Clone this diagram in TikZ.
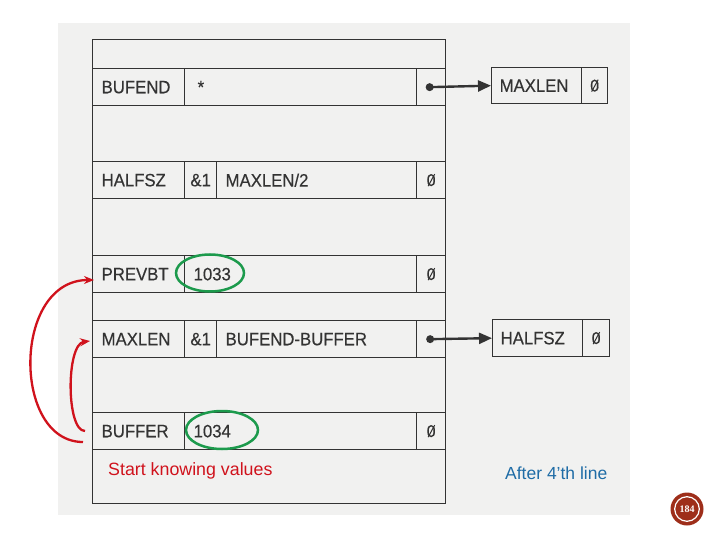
\documentclass[tikz,border=0pt]{standalone}
\usepackage{fontspec}
\setmainfont{Liberation Sans}
\newfontfamily\tablefont{Liberation Sans}[FakeBold=0.35, FakeStretch=0.93]
\newfontfamily\badgefont{Liberation Serif}
\usetikzlibrary{arrows.meta,shapes.geometric}
\definecolor{scan}{HTML}{F1F1F0}
\definecolor{ink}{HTML}{333333}
\definecolor{redmark}{HTML}{D0121C}
\definecolor{greenmark}{HTML}{1C9A4C}
\definecolor{bluetext}{HTML}{1F6CA6}
\definecolor{badgered}{HTML}{9E2E1A}
\tikzset{
  cell/.style={draw=ink, line width=1.3pt, minimum height=37pt, inner ysep=0pt,
    anchor=north west, font=\fontsize{18}{20}\tablefont, text=ink},
  lcell/.style={cell, inner xsep=9pt, align=left, text width=#1},
  ccell/.style={cell, inner xsep=0pt, align=center, text width=#1},
  zero/.style={font=\fontsize{17}{20}\tablefont,
    append after command={\pgfextra{\draw[ink, line width=1pt]
      ([xshift=-3pt,yshift=-6pt]\tikzlastnode.center) -- ([xshift=3.5pt,yshift=6pt]\tikzlastnode.center);}}},
  ptr/.style={draw=ink, line width=2.4pt, -{Triangle[length=13pt,width=11pt]}},
  dot/.style={fill=ink},
  redarc/.style={draw=redmark, line width=2.3pt, -{Stealth[length=10pt,width=8pt]}},
  greenring/.style={draw=greenmark, line width=2.5pt, ellipse, inner sep=0pt},
}
\begin{document}
\begin{tikzpicture}[x=1pt,y=-1pt]
\useasboundingbox (0,0) rectangle (720,540);
\fill[scan] (58,23) rectangle (630,515);

% outer table
\node[draw=ink, line width=1.4pt, minimum width=353pt, minimum height=464pt, anchor=north west, inner sep=0pt] (table) at (92,39) {};

% BUFEND row
\node[lcell=74pt] (bufendL) at (92,68) {BUFEND};
\node[lcell=214pt] (bufendV) at (184,68) {\hspace*{4pt}*};
\node[ccell=29pt] (bufendP) at (416,68) {};

% HALFSZ row
\node[lcell=74pt] (halfszL) at (92,161) {HALFSZ};
\node[ccell=32pt] (halfszR) at (184,161) {\&1};
\node[lcell=182pt] (halfszV) at (216,161) {MAXLEN/2};
\node[ccell=29pt, zero] (halfszP) at (416,161) {0};

% PREVBT row
\node[lcell=74pt] (prevbtL) at (92,255) {PREVBT};
\node[lcell=214pt] (prevbtV) at (184,255) {1033};
\node[ccell=29pt, zero] (prevbtP) at (416,255) {0};

% MAXLEN row
\node[lcell=74pt] (maxlenL) at (92,320) {MAXLEN};
\node[ccell=32pt] (maxlenR) at (184,320) {\&1};
\node[lcell=182pt] (maxlenV) at (216,320) {BUFEND-BUFFER};
\node[ccell=29pt] (maxlenP) at (416,320) {};

% BUFFER row
\node[lcell=74pt] (bufferL) at (92,412) {BUFFER};
\node[lcell=214pt] (bufferV) at (184,412) {1034};
\node[ccell=29pt, zero] (bufferP) at (416,412) {0};

% linked boxes
\node[lcell=74pt, inner xsep=8pt, minimum height=36pt] (lmaxlen) at (491,67) {MAXLEN};
\node[ccell=26pt, zero, minimum height=36pt] (lmaxlenP) at (581,67) {0};
\node[lcell=74pt, inner xsep=8pt, minimum height=37pt] (lhalfsz) at (492,319) {HALFSZ};
\node[ccell=27pt, zero] (lhalfszP) at (582,319) {0};

% pointers
\fill[dot] ([xshift=-1.5pt]bufendP.center) circle (4pt);
\draw[ptr] ([xshift=-1.5pt]bufendP.center) -- (lmaxlen.west);
\fill[dot] ([xshift=-1pt]maxlenP.center) circle (4pt);
\draw[ptr] ([xshift=-1pt]maxlenP.center) -- (lhalfsz.west);

% green rings
\node[greenring, minimum width=68pt, minimum height=37pt] (ring1) at (210,273) {};
\node[greenring, minimum width=72pt, minimum height=38pt] (ring2) at (222,430) {};

% red arcs
\coordinate (bigS) at (83,442);
\coordinate (bigE) at (94,280);
\coordinate (smallS) at (85,431);
\coordinate (smallE) at (90,341);
\draw[redarc] (bigS) .. controls (12,442) and (12,280) .. (bigE);
\draw[redarc] (smallS) .. controls (66,431) and (66,344) .. (smallE);

% captions
\node[anchor=west, inner sep=0pt, text=redmark, font=\fontsize{17.8}{20}\selectfont] (startcap) at (108,471) {Start knowing values};
\node[anchor=west, inner sep=0pt, text=bluetext, font=\fontsize{17.5}{20}\selectfont] (aftercap) at (505,473) {After 4’th line};

% page badge
\node[circle, fill=badgered, minimum size=33pt, inner sep=0pt] (badge) at (687,509) {};
\draw[white, line width=1.2pt] (badge.center) circle (12.3pt);
\node[text=white, inner sep=0pt, font=\fontsize{10}{10}\badgefont\bfseries] (badgenum) at (badge.center) {184};
\end{tikzpicture}
\end{document}
